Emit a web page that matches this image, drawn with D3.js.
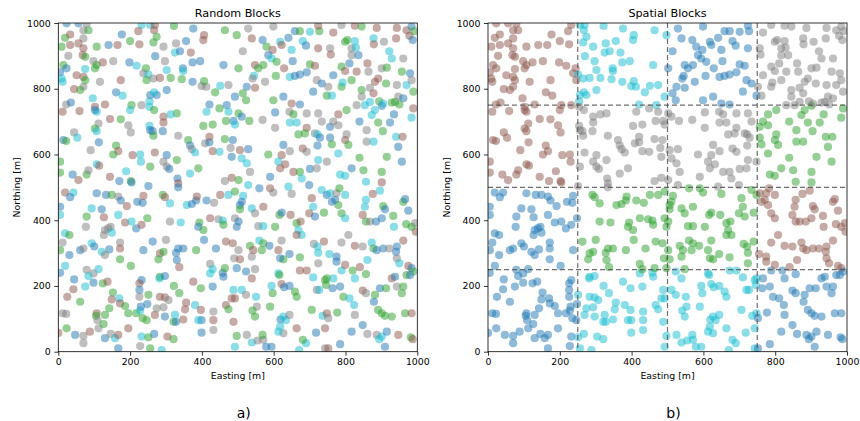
<!DOCTYPE html>
<html>
<head>
<meta charset="utf-8">
<script src="https://cdn.jsdelivr.net/npm/d3@7"></script>
<style>
  body { margin: 0; background: #fff; }
  svg text { font-family: "DejaVu Sans", sans-serif; fill: #000; }
</style>
</head>
<body>
<div id="chart"></div>
<script>
// sample locations [easting, northing, fold in the random split]
// fold codes: 0 blue, 1 green, 2 brown, 3 gray, 4 cyan
const samples = [
  [23,999,0],[56,999,0],[70,978,3],[84,978,1],[79,998,3],[232,994,4],[256,994,4],[269,994,2],[267,978,2],[322,991,1],[376,983,0],[464,978,1],
  [19,955,1],[33,965,2],[70,953,3],[9,928,1],[33,933,2],[56,938,2],[70,923,2],[107,928,1],[140,933,0],[165,933,2],[177,965,0],[200,945,1],[223,975,2],[226,935,2],[265,941,1],[274,958,1],[293,928,3],[328,938,3],[325,910,4],[339,914,0],[356,945,0],[369,910,2],[404,948,2],[406,963,2],
  [28,900,3],[68,902,2],[75,897,1],[14,872,1],[5,850,0],[23,862,0],[75,860,4],[98,884,3],[107,872,1],[102,862,1],[124,880,2],[153,884,3],[198,880,0],[218,870,4],[244,862,1],[270,899,0],[297,884,3],[302,857,4],[347,862,0],[348,854,4],[374,880,0],[395,884,0],[460,872,0],
  [9,831,4],[12,821,4],[51,841,2],[70,836,2],[70,806,3],[61,796,1],[75,826,1],[44,799,2],[116,821,3],[174,826,2],[237,847,3],[251,843,4],[246,826,1],[265,831,3],[283,833,2],[313,833,1],[344,829,1],[374,821,0],[399,808,3],[412,806,3],[406,823,1],[451,809,4],[474,811,3],[437,789,1],
  [96,771,4],[102,745,2],[130,752,2],[22,752,3],[35,758,0],[12,730,2],[59,732,2],[107,730,4],[102,735,0],[161,789,0],[179,779,4],[204,750,1],[200,735,4],[232,750,3],[254,762,4],[254,745,4],[256,781,0],[274,781,0],[267,789,4],[267,735,1],[302,796,0],[293,715,2],[330,725,1],[313,722,4],[421,752,0],[413,730,4],[449,740,1],[469,750,0],[474,730,4],
  [112,694,3],[102,679,1],[107,671,4],[144,708,2],[174,707,1],[195,689,3],[202,667,3],[254,687,4],[256,674,0],[263,671,0],[265,657,1],[291,671,0],[293,697,2],[334,657,3],[404,687,1],[430,691,1],[467,702,1],[488,702,0],
  [44,667,3],[53,651,4],[14,644,0],[22,641,1],[113,637,0],[90,613,3],[161,627,1],[167,610,2],[153,600,1],[207,598,2],[228,600,4],[230,578,4],[269,606,2],[302,598,0],[293,578,3],[330,583,1],[362,644,1],[367,627,0],[372,616,3],[381,606,4],[409,634,3],[421,637,0],[421,654,2],[430,610,2],[449,608,4],[464,647,1],[486,644,0],[480,620,3],[483,593,0],
  [5,578,1],[5,545,1],[40,539,0],[56,522,2],[79,539,1],[84,552,3],[107,570,4],[114,566,2],[144,532,2],[170,519,0],[189,549,4],[202,519,1],[204,515,0],[256,563,1],[302,563,3],[309,556,0],[332,527,0],[334,512,2],[367,542,4],[390,558,1],[464,519,3],[483,529,2],
  [497,963,1],[529,983,3],[539,953,2],[599,989,3],[659,975,0],[673,975,1],[701,973,4],[727,975,1],[724,992,2],[766,971,2],[789,994,3],[826,992,2],[845,989,1],[887,985,2],[943,985,2],[970,978,2],[984,989,0],[991,975,1],
  [569,948,0],[580,928,1],[597,918,2],[618,943,4],[622,933,2],[641,955,0],[650,918,4],[681,945,4],[690,931,0],[724,923,2],[757,923,3],[759,904,2],[799,943,1],[805,948,1],[826,945,4],[817,923,3],[829,925,4],[878,953,4],[879,935,2],[907,943,3],[941,953,2],[978,961,2],[987,948,0],
  [514,914,3],[548,872,2],[557,862,1],[571,872,1],[502,862,1],[585,902,0],[594,892,4],[608,882,1],[629,862,2],[653,884,0],[701,874,1],[715,870,2],[789,867,1],[799,854,2],[811,877,0],[817,902,3],[836,902,0],[831,852,2],[861,877,2],[864,852,3],[901,862,3],[915,864,1],[922,914,4],[929,892,4],[961,892,3],[957,852,1],[980,847,0],
  [545,839,4],[541,831,3],[548,803,2],[525,806,0],[576,821,3],[606,839,1],[645,836,4],[659,839,0],[673,843,0],[692,850,0],[710,791,0],[720,826,3],[734,816,0],[752,806,3],[766,841,0],[789,806,1],[792,819,4],[817,826,1],[845,796,1],[868,803,3],[878,786,2],[882,821,2],[891,831,2],[913,816,1],[943,811,3],[970,811,4],[984,826,3],[989,791,1],
  [492,776,0],[514,786,1],[523,765,1],[599,765,1],[627,776,0],[650,755,2],[644,730,3],[655,722,1],[673,752,0],[692,725,3],[724,725,3],[748,779,1],[762,779,4],[780,722,2],[803,735,1],[831,750,3],[845,776,3],[854,750,4],[868,760,4],[894,762,1],[901,748,0],[905,755,4],[929,758,1],[938,760,1],[950,752,1],[947,776,3],[961,771,0],[989,740,2],[882,735,4],[873,720,4],[502,725,1],[511,715,0],
  [492,691,4],[532,702,1],[569,705,3],[604,728,0],[604,681,3],[645,697,4],[664,697,4],[669,661,1],[692,681,2],[687,664,1],[715,664,3],[722,661,4],[729,651,0],[734,700,3],[757,684,0],[766,700,3],[780,689,3],[803,661,3],[839,700,0],[859,674,3],[891,697,1],[904,671,1],[924,697,0],[935,722,0],[941,654,4],[959,654,2],[984,712,4],
  [506,613,2],[529,616,0],[585,600,1],[622,598,2],[627,629,0],[645,610,3],[681,618,2],[692,608,3],[724,583,4],[722,627,0],[757,651,0],[762,631,1],[780,603,4],[799,644,2],[808,629,1],[839,590,1],[859,639,3],[878,639,4],[915,593,1],[947,623,0],[957,578,0],[511,588,4],
  [502,522,1],[534,547,3],[525,573,4],[590,532,0],[613,578,4],[618,558,2],[632,570,2],[655,547,2],[673,547,1],[678,527,4],[701,556,0],[720,558,3],[748,578,3],[785,539,4],[799,535,4],[817,558,0],[850,552,1],[857,517,4],[901,515,2],[901,547,1],
  [5,441,0],[5,416,4],[19,484,2],[42,484,4],[33,470,0],[107,482,0],[133,477,0],[149,477,1],[167,472,3],[174,460,0],[191,443,2],[220,456,0],[235,453,0],[237,474,2],[251,504,0],[291,477,1],[297,470,2],[311,451,4],[334,500,0],[358,446,4],[372,449,0],[384,460,0],[386,472,2],[413,460,0],[434,453,3],[451,477,2],[474,477,4],
  [93,436,4],[121,433,0],[79,411,1],[77,380,3],[127,409,2],[139,375,3],[146,380,3],[167,416,4],[186,393,2],[204,396,4],[217,375,0],[232,386,2],[248,406,1],[311,396,3],[341,393,4],[393,393,1],[390,380,0],[404,370,1],[423,406,2],[446,403,3],[458,399,4],[460,386,1],
  [19,360,4],[31,355,1],[130,370,3],[149,362,4],[127,355,3],[12,332,3],[5,309,1],[61,309,0],[70,314,3],[93,330,4],[100,320,0],[121,304,4],[130,294,3],[142,311,0],[172,332,3],[172,314,2],[172,281,1],[202,261,1],[237,309,0],[263,335,0],[300,340,3],[283,299,2],[279,281,1],[293,304,1],[328,301,0],[334,314,0],[330,279,0],[348,314,0],[337,257,2],[384,309,1],[406,340,0],[439,314,0],[467,335,2],[486,330,2],[490,284,3],
  [31,294,0],[19,261,4],[5,240,0],[79,249,3],[98,238,3],[112,251,4],[84,230,4],[44,220,0],[42,190,2],[75,198,4],[98,210,0],[124,208,1],[137,213,2],[152,180,1],[170,162,4],[149,159,2],[232,218,0],[226,208,2],[226,188,0],[226,167,3],[251,173,1],[283,228,1],[282,223,4],[297,230,0],[283,167,2],[297,165,2],[322,200,1],[337,178,1],[376,213,2],[397,193,1],[423,238,4],[423,267,3],[430,251,4],[430,198,0],[458,240,0],[460,228,0],[464,254,1],[488,188,4],
  [25,167,2],[61,152,1],[12,117,3],[22,115,3],[107,117,2],[105,109,1],[109,96,3],[130,112,1],[142,132,1],[172,147,2],[186,139,1],[195,117,1],[217,117,1],[228,125,4],[235,102,1],[246,96,1],[230,137,0],[248,145,0],[269,112,2],[274,132,3],[293,135,3],[297,107,0],[307,157,3],[321,91,1],[328,91,0],[325,112,4],[348,98,2],[353,129,2],[356,149,2],[381,142,4],[397,127,2],[399,96,0],[390,96,4],[432,122,3],[432,96,2],[467,142,2],[474,129,1],[483,162,2],[488,91,2],
  [23,71,1],[47,51,0],[70,48,3],[70,26,3],[88,61,2],[112,71,3],[126,84,1],[130,41,0],[146,54,3],[158,41,4],[167,51,2],[195,71,2],[228,17,3],[232,46,4],[251,44,1],[256,10,1],[267,54,0],[304,46,2],[321,38,1],[399,58,0],[432,66,3],[167,10,0],[288,5,4],[0,57,2],
  [492,487,1],[515,474,4],[529,507,4],[511,456,0],[506,446,0],[506,433,1],[539,436,4],[560,497,0],[571,441,2],[590,497,2],[599,484,3],[641,502,4],[650,480,3],[699,507,0],[706,467,2],[710,441,4],[734,492,4],[748,477,0],[757,482,4],[775,482,3],[771,462,0],[780,446,1],[783,497,1],[799,477,4],[857,462,4],[854,441,4],[876,480,2],[896,490,4],[905,443,1],[910,433,0],[961,456,1],[966,464,0],[975,429,0],[994,391,3],[996,365,2],
  [492,406,3],[502,396,0],[497,380,0],[548,421,3],[557,382,3],[571,382,4],[604,380,1],[616,416,1],[622,423,0],[647,416,2],[664,391,1],[669,370,4],[678,355,4],[675,396,2],[699,421,2],[715,411,0],[740,423,1],[762,456,0],[789,421,1],[799,406,4],[808,355,3],[848,416,2],[857,396,1],[868,396,3],[885,396,0],[901,406,0],[933,413,1],[935,380,4],[969,388,1],[984,380,1],[664,355,2],
  [502,309,3],[534,322,1],[560,338,4],[571,330,1],[588,322,0],[567,309,1],[543,309,2],[539,289,3],[506,281,2],[497,254,0],[523,244,0],[548,251,3],[622,338,3],[613,309,2],[627,281,1],[618,284,0],[644,297,0],[673,287,1],[712,328,3],[722,320,4],[724,301,4],[740,335,2],[755,297,4],[775,289,0],[775,274,0],[789,247,4],[799,264,2],[789,332,3],[826,322,2],[848,320,3],[861,279,4],[873,332,4],[878,314,1],[887,309,0],[905,314,0],[922,314,3],[943,320,0],[941,304,0],[943,284,3],[950,269,4],[961,338,2],[975,261,2],[984,254,0],[989,244,1],
  [539,223,2],[511,188,4],[613,238,4],[616,233,1],[622,206,2],[629,196,0],[644,200,0],[659,183,1],[664,167,1],[673,247,2],[692,247,2],[710,226,4],[724,269,3],[743,218,1],[748,223,1],[746,203,1],[720,188,3],[727,188,4],[766,223,4],[764,193,0],[785,198,0],[794,167,1],[811,162,4],[826,223,4],[820,247,1],[840,257,2],[857,236,1],[848,186,2],[857,178,3],[882,173,1],[896,193,0],[913,193,1],[929,223,2],[938,228,0],[943,198,3],[957,178,1],[961,198,1],[970,233,1],[980,233,0],
  [492,162,2],[523,173,3],[551,167,4],[553,137,3],[541,125,1],[548,107,1],[590,137,1],[597,178,1],[594,200,4],[619,98,0],[627,107,4],[634,96,4],[618,76,4],[627,56,3],[644,112,3],[664,71,2],[706,127,1],[718,58,0],[736,109,4],[748,117,2],[752,102,3],[743,71,2],[777,119,1],[824,142,4],[826,112,3],[848,81,0],[861,54,3],[879,152,0],[891,127,1],[901,117,1],[910,109,1],[929,107,1],[966,117,1],[984,117,2],[887,51,3],[901,46,4],[915,61,0],[947,51,2],[982,44,1],[987,38,2],
  [497,48,1],[525,51,3],[492,15,4],[539,28,4],[555,34,3],[571,36,3],[569,51,1],[579,15,0],[594,15,0],[613,61,4],[690,26,4],[743,10,3],[752,10,2],[785,23,0],[817,61,0],[894,38,4],[671,5,4],[681,36,1],[910,15,0]
];

// fold of each 250 m block in the spatial split, rows from south to north
const blockSize = 250;
const spatialFolds = [
  [0, 4, 4, 0],
  [0, 1, 1, 2],
  [2, 3, 3, 1],
  [2, 4, 0, 3]
];
const blockEdges = [250, 500, 750];

const foldColors = ["#1f77b4", "#2ca02c", "#8c564b", "#7f7f7f", "#17becf"];
const ticks = [0, 200, 400, 600, 800, 1000];
const titles = ["Random Blocks", "Spatial Blocks"];
const tags = ["a)", "b)"];

const width = 860, height = 421;
const plotW = 359, plotTop = 23, plotBottom = 351.7;
const lefts = [58.3, 488];

const svg = d3.select("#chart").append("svg")
  .attr("width", width)
  .attr("height", height);

function spatialFold(d) {
  const bx = Math.min(3, Math.floor(d[0] / blockSize));
  const by = Math.min(3, Math.floor(d[1] / blockSize));
  return spatialFolds[by][bx];
}

lefts.forEach((left, i) => {
  const x = d3.scaleLinear().domain([0, 1000]).range([left, left + plotW]);
  const y = d3.scaleLinear().domain([0, 1000]).range([plotBottom, plotTop]);

  svg.append("clipPath").attr("id", "clip" + i)
    .append("rect")
    .attr("x", left).attr("y", plotTop)
    .attr("width", plotW).attr("height", plotBottom - plotTop);

  const foldOf = i === 0 ? (d => d[2]) : spatialFold;

  svg.append("g")
    .attr("clip-path", `url(#clip${i})`)
    .selectAll("circle")
    .data(samples)
    .join("circle")
    .attr("cx", d => x(d[0]))
    .attr("cy", d => y(d[1]))
    .attr("r", 4.1)
    .attr("fill", d => foldColors[foldOf(d)])
    .attr("fill-opacity", 0.5);

  if (i === 1) {
    const grid = svg.append("g")
      .attr("stroke", "#555")
      .attr("stroke-opacity", 0.85)
      .attr("stroke-width", 1.2)
      .attr("stroke-dasharray", "5,3");
    grid.selectAll("line.v").data(blockEdges).join("line")
      .attr("class", "v")
      .attr("x1", d => x(d)).attr("x2", d => x(d))
      .attr("y1", plotTop).attr("y2", plotBottom);
    grid.selectAll("line.h").data(blockEdges).join("line")
      .attr("class", "h")
      .attr("x1", left).attr("x2", left + plotW)
      .attr("y1", d => y(d)).attr("y2", d => y(d));
  }

  const xAxis = svg.append("g")
    .attr("transform", `translate(0,${plotBottom})`)
    .call(d3.axisBottom(x).tickValues(ticks).tickFormat(d3.format("d")).tickSize(4).tickPadding(3));
  const yAxis = svg.append("g")
    .attr("transform", `translate(${left},0)`)
    .call(d3.axisLeft(y).tickValues(ticks).tickFormat(d3.format("d")).tickSize(4).tickPadding(3.5));
  [xAxis, yAxis].forEach(a => {
    a.select(".domain").remove();
    a.selectAll("line").attr("stroke", "#000").attr("stroke-width", 0.8);
    a.selectAll("text").style("font-family", "DejaVu Sans").style("font-size", "9.4px");
  });

  svg.append("rect")
    .attr("x", left).attr("y", plotTop)
    .attr("width", plotW).attr("height", plotBottom - plotTop)
    .attr("fill", "none")
    .attr("stroke", "#000")
    .attr("stroke-width", 0.8);

  svg.append("text")
    .attr("x", left + plotW / 2).attr("y", 16.5)
    .attr("text-anchor", "middle")
    .style("font-size", "11.2px")
    .text(titles[i]);

  svg.append("text")
    .attr("x", left + plotW / 2).attr("y", 379)
    .attr("text-anchor", "middle")
    .style("font-size", "9.4px")
    .text("Easting [m]");

  svg.append("text")
    .attr("transform", `translate(${left - 38.5},${(plotTop + plotBottom) / 2}) rotate(-90)`)
    .attr("text-anchor", "middle")
    .style("font-size", "9.4px")
    .text("Northing [m]");

  svg.append("text")
    .attr("x", left + plotW / 2 + 6).attr("y", 417.5)
    .attr("text-anchor", "middle")
    .style("font-size", "14px")
    .text(tags[i]);
});
</script>
</body>
</html>
